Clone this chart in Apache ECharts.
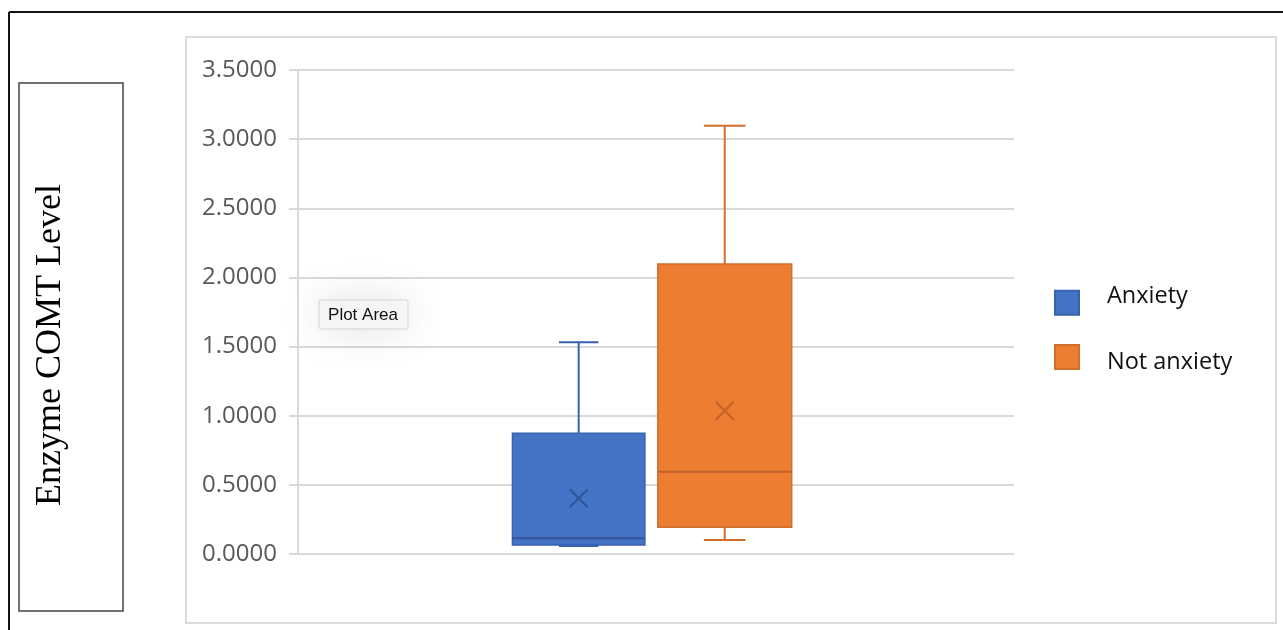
<!DOCTYPE html>
<html>
<head>
<meta charset="utf-8">
<script src="https://cdn.jsdelivr.net/npm/echarts@6/dist/echarts.min.js"></script>
<style>
  html, body { margin: 0; padding: 0; background: #ffffff; }
  #chart { width: 1283px; height: 630px; }
</style>
</head>
<body>
<div id="chart"></div>
<script>
// Groups shown in the legend
const groups = ['Anxiety', 'Not anxiety'];
// Box summary per group: [min, Q1, median, Q3, max, mean]
const anxietyStats = [0.058, 0.065, 0.113, 0.873, 1.531, 0.403];
const notAnxietyStats = [0.101, 0.193, 0.595, 2.097, 3.097, 1.036];
// Value axis ticks
const yTicks = [0, 0.5, 1.0, 1.5, 2.0, 2.5, 3.0, 3.5];
const axisTitle = 'Enzyme COMT Level';

// Drawing styles (fractions are relative to the category band width)
const boxStyles = [
  { fill: '#4472C4', stroke: '#3862AE', dark: '#2F559A', offset: -0.108, width: 0.185, cap: 0.055 },
  { fill: '#ED7D31', stroke: '#D06E2C', dark: '#C0622A', offset: 0.096, width: 0.187, cap: 0.058 }
];

function renderBox(params, api) {
  const s = boxStyles[params.seriesIndex];
  const band = api.size([1, 0])[0];
  const cx = api.coord([api.value(0), 0])[0] + s.offset * band;
  const hw = s.width * band / 2;
  const cw = s.cap * band / 2;
  const y = i => api.coord([api.value(0), api.value(i)])[1];
  const yMin = y(1), yQ1 = y(2), yMed = y(3), yQ3 = y(4), yMax = y(5), yMean = y(6);
  const line = (x1, y1, x2, y2, color, w) => ({
    type: 'line',
    shape: { x1, y1, x2, y2 },
    style: { stroke: color, lineWidth: w }
  });
  const m = 9;
  return {
    type: 'group',
    children: [
      line(cx, yQ3, cx, yMax, s.stroke, 2),
      line(cx - cw, yMax, cx + cw, yMax, s.stroke, 2),
      line(cx, yQ1, cx, yMin, s.stroke, 2),
      line(cx - cw, yMin, cx + cw, yMin, s.stroke, 2),
      {
        type: 'rect',
        shape: { x: cx - hw, y: yQ3, width: hw * 2, height: yQ1 - yQ3 },
        style: { fill: s.fill, stroke: s.stroke, lineWidth: 1.5 }
      },
      line(cx - hw, yMed, cx + hw, yMed, s.dark, 2),
      line(cx - m, yMean - m, cx + m, yMean + m, s.dark, 2),
      line(cx - m, yMean + m, cx + m, yMean - m, s.dark, 2)
    ]
  };
}

const seriesStats = [anxietyStats, notAnxietyStats];

// One legend block per group; the label sits a little above / below its swatch
const legendText = { fontSize: 23.5, fontFamily: 'Open Sans', color: '#111', padding: [0, 0, 0, 23] };
const legendBlocks = [
  { top: 279, rich: { t: { fontSize: 23.5, fontFamily: 'Open Sans', color: '#111', lineHeight: 37.5, verticalAlign: 'top' } } },
  { top: 339, rich: { t: { fontSize: 23.5, fontFamily: 'Open Sans', color: '#111', lineHeight: 34, verticalAlign: 'bottom' } } }
];

const option = {
  animation: false,
  backgroundColor: '#ffffff',
  grid: { left: 298, right: 269, top: 70, bottom: 76, containLabel: false, outerBoundsMode: 'none' },
  xAxis: {
    type: 'category',
    data: [''],
    axisLine: { show: false },
    axisTick: { show: false },
    axisLabel: { show: false },
    splitLine: { show: false }
  },
  yAxis: {
    type: 'value',
    min: yTicks[0],
    max: yTicks[yTicks.length - 1],
    interval: yTicks[1] - yTicks[0],
    axisLine: { show: true, lineStyle: { color: '#d9d9d9', width: 2 } },
    axisTick: { show: true, length: 9, lineStyle: { color: '#d9d9d9', width: 2 } },
    axisLabel: {
      formatter: v => v.toFixed(4),
      color: '#595959',
      fontSize: 24,
      fontFamily: 'Open Sans',
      margin: 21
    },
    splitLine: { lineStyle: { color: '#d9d9d9', width: 2 } }
  },
  legend: groups.map((name, i) => ({
    data: [name],
    orient: 'vertical',
    left: 1049,
    top: legendBlocks[i].top,
    icon: 'rect',
    itemWidth: 24,
    itemHeight: 24,
    formatter: '{t|{name}}',
    textStyle: Object.assign({}, legendText, { rich: legendBlocks[i].rich })
  })),
  series: groups.map((name, i) => ({
    type: 'custom',
    name,
    renderItem: renderBox,
    itemStyle: { color: boxStyles[i].fill, borderColor: boxStyles[i].stroke, borderWidth: 1 },
    encode: { x: 0, y: [1, 2, 3, 4, 5, 6] },
    data: [[0].concat(seriesStats[i])]
  })),
  graphic: [
    // outer page frame
    { type: 'line', silent: true, shape: { x1: 9, y1: 12, x2: 1283, y2: 12 }, style: { stroke: '#111', lineWidth: 2 } },
    { type: 'line', silent: true, shape: { x1: 9, y1: 12, x2: 9, y2: 630 }, style: { stroke: '#111', lineWidth: 2 } },
    // chart area frame
    { type: 'rect', silent: true, z: -1, shape: { x: 186, y: 37, width: 1090, height: 586 }, style: { fill: 'none', stroke: '#dcdcdc', lineWidth: 2 } },
    // axis title box
    { type: 'rect', silent: true, shape: { x: 19, y: 83, width: 104, height: 528 }, style: { fill: '#fff', stroke: '#444', lineWidth: 1.5 } },
    {
      type: 'text', silent: true, x: 51, y: 345, rotation: Math.PI / 2,
      style: { text: axisTitle, font: '36px "Liberation Serif"', fill: '#000', align: 'center', verticalAlign: 'middle' }
    },
    // hover label
    {
      type: 'rect', silent: true, z: 50, shape: { x: 319, y: 300, width: 89, height: 29, r: 2 },
      style: { fill: '#f6f6f6', stroke: '#d4d4d4', lineWidth: 1, shadowBlur: 40, shadowColor: 'rgba(0,0,0,0.13)' }
    },
    {
      type: 'text', silent: true, z: 51, x: 363, y: 315,
      style: { text: 'Plot Area', font: '17px "Liberation Sans"', fill: '#111', align: 'center', verticalAlign: 'middle' }
    }
  ]
};

const chart = echarts.init(document.getElementById('chart'), null, { renderer: 'canvas' });
chart.setOption(option);
</script>
</body>
</html>
